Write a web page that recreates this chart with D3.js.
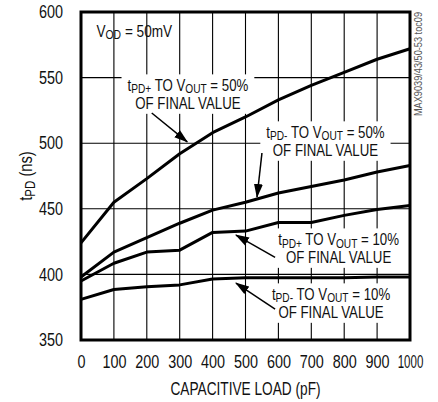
<!DOCTYPE html>
<html>
<head>
<meta charset="utf-8">
<title>tPD vs capacitive load</title>
<script src="https://cdn.jsdelivr.net/npm/d3@7"></script>
<style>
  body { margin: 0; background: #fff; }
  svg text { font-family: "Liberation Sans Narrow", "Liberation Sans", Arial, sans-serif; fill: #111; }
</style>
</head>
<body>
<div id="chart"></div>
<script>

// data (pF -> ns)
const loads     = [0, 100, 200, 300, 400, 500, 600, 700, 800, 900, 1000];
const tpdRise50 = [424, 455, 473, 492, 508, 520, 533, 544, 554, 564, 572];
const tpdFall50 = [398, 417, 428, 439, 449, 455, 462, 467, 472, 478, 483];
const tpdRise10 = [395, 408.5, 417, 418.5, 432, 433, 439.5, 439.5, 445, 449.5, 452.5];
const tpdFall10 = [381, 388.5, 390.5, 392, 396.5, 397.5, 397.5, 397.5, 397.5, 398, 398];

const xTicks = [0, 100, 200, 300, 400, 500, 600, 700, 800, 900, 1000];
const yTicks = [350, 400, 450, 500, 550, 600];

const xTitle = "CAPACITIVE LOAD (pF)";
const partNo = "MAX9039/43/50-53 toc09";

// text pieces: [string, isSubscript]
const vodText = [["V"], ["OD", 1], [" = 50mV"]];
const yTitle  = [["t"], ["PD", 1], [" (ns)"]];
const noteText = [
  [[["t"], ["PD+", 1], [" TO V"], ["OUT", 1], [" = 50%"]], [["OF FINAL VALUE"]]],
  [[["t"], ["PD-", 1], [" TO V"], ["OUT", 1], [" = 50%"]], [["OF FINAL VALUE"]]],
  [[["t"], ["PD+", 1], [" TO V"], ["OUT", 1], [" = 10%"]], [["OF FINAL VALUE"]]],
  [[["t"], ["PD-", 1], [" TO V"], ["OUT", 1], [" = 10%"]], [["OF FINAL VALUE"]]],
];
// label anchor (centre x, first baseline) and arrow [from, tip], in data units
const noteAt    = [[325, 539.8], [743, 504], [783, 422.4], [760, 380.5]];
const noteArrow = [
  [[215, 523], [323, 501]],
  [[550, 492.5], [535, 459]],
  [[590, 413], [471, 430]],
  [[590, 373.6], [471, 393.4]],
];

const width = 438, height = 402;
const marginTop = 12, marginRight = 28, marginBottom = 62, marginLeft = 81;
const narrow = 0.8;   // no narrow font installed, squeeze Liberation Sans

const x = d3.scaleLinear([0, 1000], [marginLeft, width - marginRight]);
const y = d3.scaleLinear([350, 600], [height - marginBottom, marginTop]);

const svg = d3.select("#chart").append("svg")
  .attr("width", width)
  .attr("height", height)
  .attr("viewBox", [0, 0, width, height]);

function richText(sel, parts, size, subSize) {
  parts.forEach(([s, sub], i) => {
    const prev = i > 0 && parts[i - 1][1];
    sel.append("tspan")
      .attr("font-size", sub ? subSize : size)
      .attr("dy", sub && !prev ? 2.5 : (!sub && prev ? -2.5 : 0))
      .text(s);
  });
}

// grid
svg.append("g")
  .selectAll("line")
  .data(xTicks.slice(1, -1))
  .join("line")
  .attr("x1", d => x(d)).attr("x2", d => x(d))
  .attr("y1", y(350)).attr("y2", y(600))
  .attr("stroke", "#000").attr("stroke-width", 1.1);

svg.append("g")
  .selectAll("line")
  .data(yTicks.slice(1, -1))
  .join("line")
  .attr("y1", d => y(d)).attr("y2", d => y(d))
  .attr("x1", x(0)).attr("x2", x(1000))
  .attr("stroke", "#000").attr("stroke-width", 1.1);

const boxes = svg.append("g");
const curves = svg.append("g");
const notes = svg.append("g");

// curves
const line = d3.line().x((d, i) => x(loads[i])).y(d => y(d));
curves.selectAll("path")
  .data([tpdRise50, tpdFall50, tpdRise10, tpdFall10])
  .join("path")
  .attr("fill", "none")
  .attr("stroke", "#000")
  .attr("stroke-width", 3)
  .attr("stroke-linejoin", "round")
  .attr("d", line);

// arrow head
svg.append("defs").append("marker")
  .attr("id", "head")
  .attr("markerUnits", "userSpaceOnUse")
  .attr("viewBox", "0 -5 14 10")
  .attr("refX", 13).attr("refY", 0)
  .attr("markerWidth", 14).attr("markerHeight", 10)
  .attr("orient", "auto")
  .append("path")
  .attr("d", "M0,-4.5L14,0L0,4.5Z")
  .attr("fill", "#000");

// annotations
noteText.forEach((lines, k) => {
  const [cx, cy] = noteAt[k];
  const s = 0.78;
  const tf = `translate(${x(cx)},${y(cy)}) scale(${s},1)`;
  const t = notes.append("text")
    .attr("transform", tf)
    .attr("text-anchor", "middle");
  richText(t.append("tspan").attr("x", 0).attr("y", 0), lines[0], 17, 13);
  richText(t.append("tspan").attr("x", 0).attr("y", 18.5), lines[1], 17, 13);
  const b = t.node().getBBox();
  boxes.append("rect")
    .attr("transform", tf)
    .attr("x", b.x - 6 / s).attr("y", b.y - 1)
    .attr("width", b.width + 12 / s).attr("height", b.height + 2)
    .attr("fill", "#fff");

  const [from, tip] = noteArrow[k];
  notes.append("line")
    .attr("x1", x(from[0])).attr("y1", y(from[1]))
    .attr("x2", x(tip[0])).attr("y2", y(tip[1]))
    .attr("stroke", "#000").attr("stroke-width", 1.5)
    .attr("marker-end", "url(#head)");
});

// V_OD label
const vod = notes.append("text")
  .attr("transform", `translate(${x(47)},${y(581)}) scale(${narrow},1)`);
richText(vod, vodText, 17, 13);

// frame
svg.append("rect")
  .attr("x", x(0)).attr("y", y(600))
  .attr("width", x(1000) - x(0)).attr("height", y(350) - y(600))
  .attr("fill", "none").attr("stroke", "#000").attr("stroke-width", 3);

// axes labels
const xAxis = d3.axisBottom(x).tickValues(xTicks).tickFormat(d3.format("d")).tickSize(0).tickPadding(15);
svg.append("g")
  .attr("transform", `translate(0,${y(350)})`)
  .call(xAxis)
  .call(g => g.select(".domain").remove())
  .call(g => g.selectAll("text")
    .attr("font-size", 18).attr("font-family", null).attr("fill", "#111")
    .attr("transform", d => `scale(${d >= 1000 ? 0.64 : narrow},1)`));

const yAxis = d3.axisLeft(y).tickValues(yTicks).tickSize(0).tickPadding(18);
svg.append("g")
  .attr("transform", `translate(${x(0)},0)`)
  .call(yAxis)
  .call(g => g.select(".domain").remove())
  .call(g => g.selectAll("text")
    .attr("font-size", 18).attr("font-family", null).attr("fill", "#111")
    .attr("x", -18 / narrow)
    .attr("transform", `scale(${narrow},1)`));

svg.append("text")
  .attr("transform", `translate(${(x(0) + x(1000)) / 2},395) scale(0.76,1)`)
  .attr("text-anchor", "middle")
  .attr("font-size", 18)
  .text(xTitle);

const yt = svg.append("text")
  .attr("transform", `translate(32,${(y(350) + y(600)) / 2}) rotate(-90) scale(0.82,1)`)
  .attr("text-anchor", "middle");
richText(yt, yTitle, 18, 14);

svg.append("text")
  .attr("transform", `translate(422,64) rotate(-90) scale(0.92,1)`)
  .attr("text-anchor", "middle")
  .attr("font-size", 10)
  .style("fill", "#555")
  .text(partNo);

</script>
</body>
</html>
